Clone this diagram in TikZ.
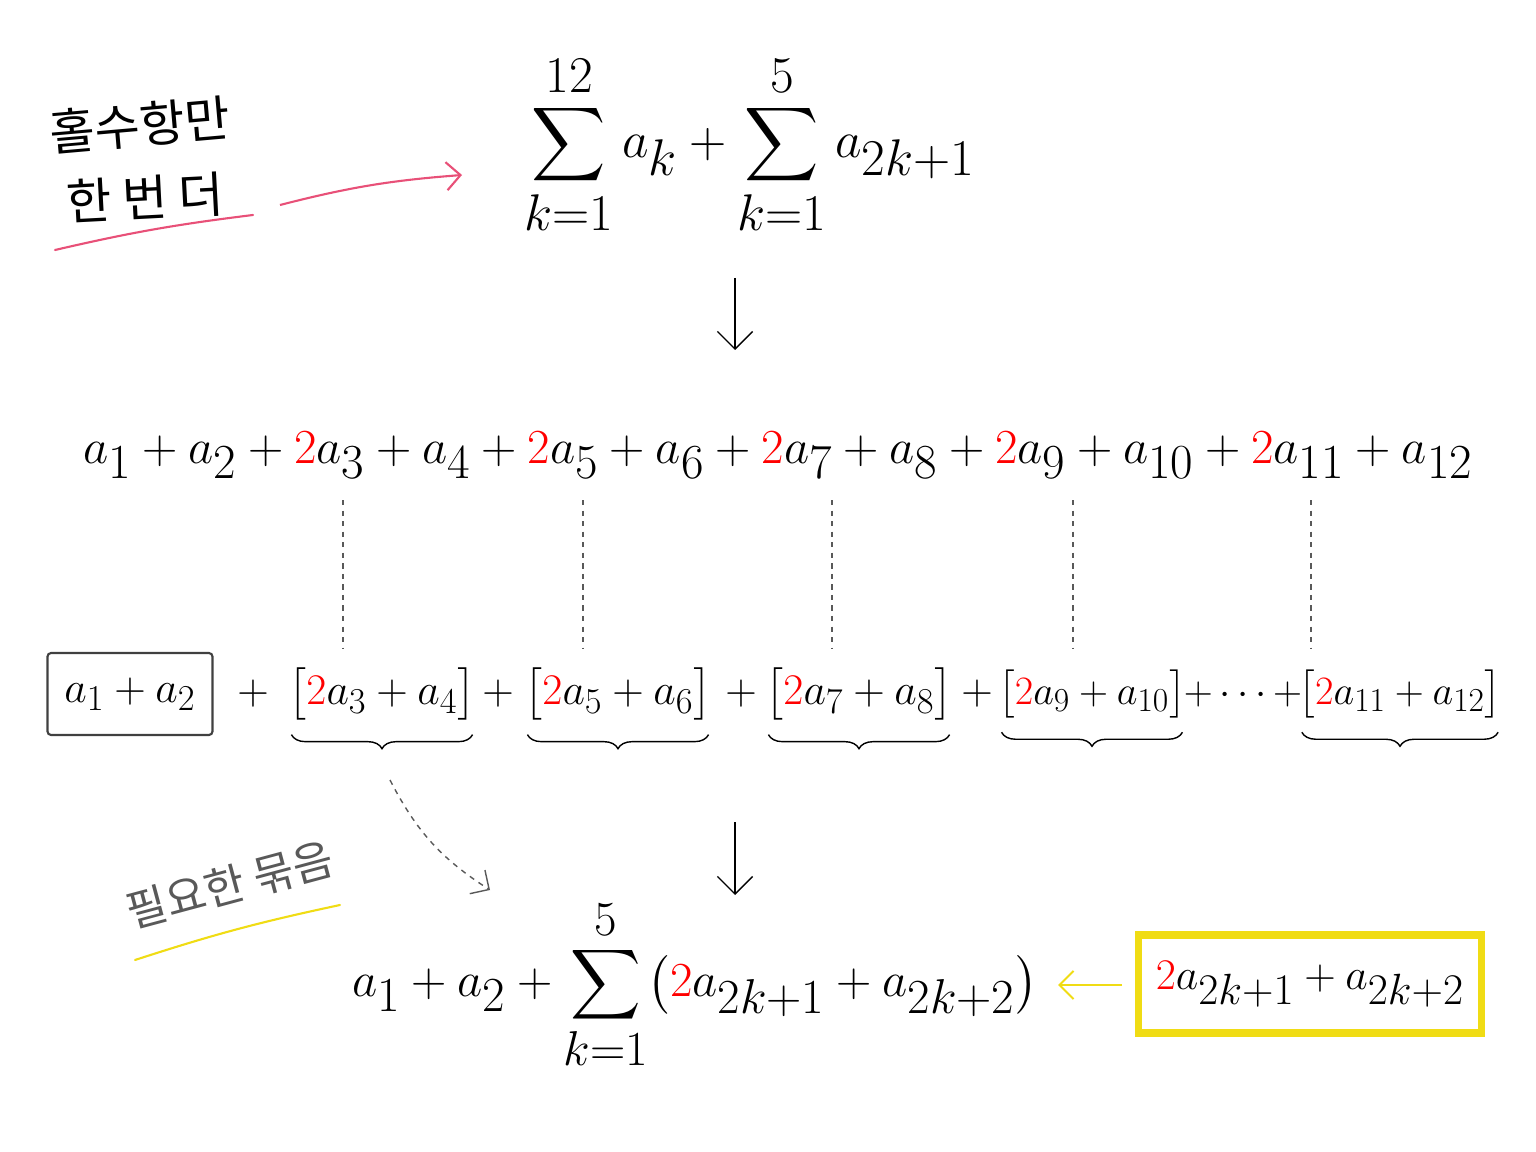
\documentclass[tikz,border=0pt]{standalone}
\usepackage{amsmath}
\usepackage{fontspec}
\newfontfamily\kor{Noto Sans CJK KR}
\usetikzlibrary{arrows.meta,positioning,decorations.pathreplacing,calc}
\definecolor{pinkline}{RGB}{232,80,120}
\definecolor{yel}{RGB}{240,220,20}
\newcommand{\rt}{\textcolor{red}{2}}
\begin{document}
\begin{tikzpicture}[x=0.02cm,y=-0.02cm]
  \tikzstyle{big}=[inner sep=2pt, font=\fontsize{42}{50}\selectfont]
  \tikzstyle{huge}=[inner sep=2pt, font=\fontsize{42}{50}\selectfont, scale=1.12]
  \tikzstyle{mid}=[inner sep=2pt, font=\fontsize{32}{38}\selectfont]
  \tikzstyle{note}=[font=\kor\fontsize{28}{34}\selectfont]
  \tikzstyle{brc}=[decorate, decoration={brace, mirror, amplitude=8pt}, thick]
  \tikzstyle{dashv}=[dashed, gray!70!black, thick]
  \useasboundingbox (0,0) rectangle (1536,1152);

  % notes
  \node[note, rotate=5] (odd) at (140,125) {홀수항만};
  \node[note, rotate=3] (more) at (145,198) {한 번 더};
  \draw[pinkline, very thick, line cap=round] (55,250) to[bend left=3] (253,215);
  \coordinate (pa) at (280,205);
  \coordinate (pb) at (462,175);
  \draw[pinkline, very thick, -{Straight Barb[length=8pt]}] (pa) to[bend left=5] (pb);

  % top formula
  \node[big, scale=1.18] (top) at (750,145) {$\displaystyle\sum_{k=1}^{12} a_k + \sum_{k=1}^{5} a_{2k+1}$};
  \coordinate (d1a) at (735,278);
  \coordinate (d1b) at (735,350);
  \draw[thick, -{Straight Barb[length=10pt]}] (d1a) -- (d1b);

  % expanded row
  \node[huge] (row) at (778,455) {$a_1 + a_2 + \rt a_3 + a_4 + \rt a_5 + a_6 + \rt a_7 + a_8 + \rt a_9 + a_{10} + \rt a_{11} + a_{12}$};

  % grouped row
  \node[mid, draw=black!75, very thick, rounded corners=2pt, minimum width=3.3cm, minimum height=1.64cm] (b0) at (130,694) {$a_1 + a_2$};
  \node[mid] (p1) at (253,694) {$+$};
  \node[mid] (g1) at (382,694) {$\big[\rt a_3 + a_4\big]$};
  \node[mid] (p2) at (498,694) {$+$};
  \node[mid] (g2) at (618,694) {$\big[\rt a_5 + a_6\big]$};
  \node[mid] (p3) at (741,694) {$+$};
  \node[mid] (g3) at (859,694) {$\big[\rt a_7 + a_8\big]$};
  \node[mid] (p4) at (977,694) {$+$};
  \node[mid, scale=0.92] (g4) at (1092,694) {$\big[\rt a_9 + a_{10}\big]$};
  \node[mid, scale=0.92] (p5) at (1243,694) {$+\cdots+$};
  \node[mid, scale=0.92] (g5) at (1400,694) {$\big[\rt a_{11} + a_{12}\big]$};

  \foreach \g/\x in {g1/343,g2/583,g3/832,g4/1073,g5/1311}{
    \draw[brc] ([xshift=4pt,yshift=-6pt]\g.south west) -- ([xshift=-4pt,yshift=-6pt]\g.south east);
    \coordinate (t\g) at (\x,500);
    \coordinate (u\g) at (\x,648);
    \draw[dashv] (t\g) -- (u\g);
  }

  \coordinate (ca) at (390,780);
  \coordinate (cb) at (490,890);
  \draw[dashv, -{Straight Barb[length=8pt]}] (ca) to[bend right=15] (cb);
  \coordinate (d2a) at (735,822);
  \coordinate (d2b) at (735,895);
  \draw[thick, -{Straight Barb[length=10pt]}] (d2a) -- (d2b);

  \node[note, text=black!65, rotate=15, font=\kor\fontsize{25}{30}\selectfont] (need) at (230,885) {필요한 묶음};
  \draw[yel, very thick, line cap=round] (135,960) to[bend left=3] (340,905);

  % result
  \node[huge] (res) at (695,985) {$a_1 + a_2 + \displaystyle\sum_{k=1}^{5}\bigl(\rt a_{2k+1} + a_{2k+2}\bigr)$};
  \node[big, draw=yel, line width=4pt, minimum width=6.88cm, minimum height=1.96cm] (yb) at (1310,984) {$\rt a_{2k+1} + a_{2k+2}$};
  \coordinate (ye) at (1122,985);
  \coordinate (ya) at (1058,985);
  \draw[yel, very thick, -{Straight Barb[length=8pt]}] (ye) -- (ya);
\end{tikzpicture}
\end{document}
